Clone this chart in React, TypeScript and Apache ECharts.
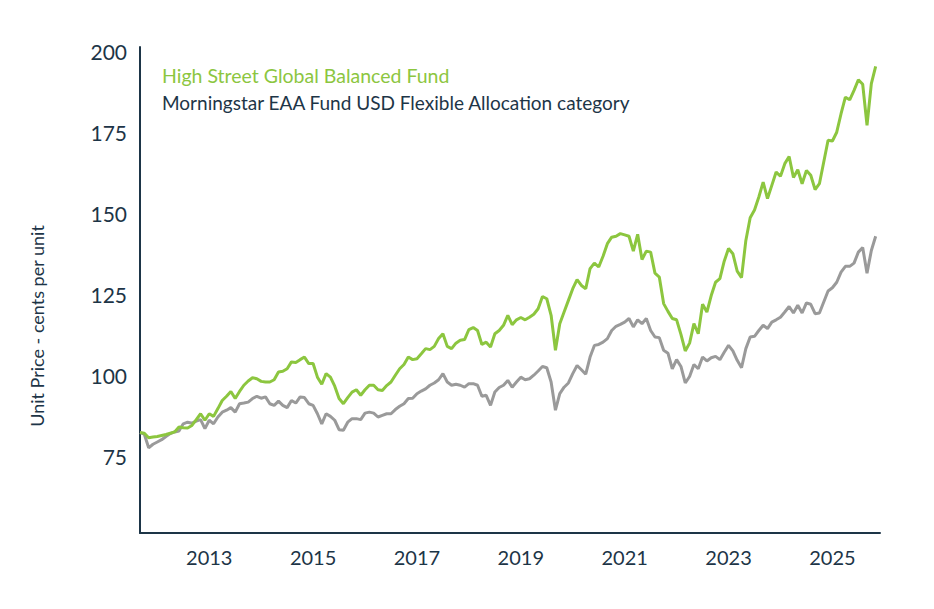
import React, { useEffect, useRef } from "react";
import * as echarts from "echarts";

// Monthly observations, Sep 2011 .. Nov 2025 (Dec 2025 is an empty slot at the axis end)
const START_YEAR = 2011;
const START_MONTH = 9;
const MONTH_COUNT = 172;

const fundName = "High Street Global Balanced Fund";
const categoryName = "Morningstar EAA Fund USD Flexible Allocation category";

const fundValues: (number | null)[] = [
  82.5, 82.3, 80.9, 81.1, 81.3, 81.6, 81.9, 82.3, 82.7, 84.2,
  84.0, 83.9, 84.7, 86.5, 88.3, 86.3, 88.3, 87.5, 89.9, 92.4,
  93.7, 95.2, 93.0, 95.2, 97.1, 98.4, 99.4, 99.1, 98.3, 98.1,
  98.1, 98.8, 101.2, 101.4, 102.2, 104.3, 104.1, 105.0, 105.8, 103.8,
  103.8, 99.6, 97.4, 100.7, 99.6, 96.8, 93.0, 91.4, 93.3, 95.0,
  95.7, 94.0, 95.7, 97.1, 97.1, 95.7, 95.5, 97.0, 98.1, 100.2,
  102.2, 103.5, 105.8, 105.0, 105.3, 106.8, 108.4, 108.1, 109.1, 111.5,
  113.0, 109.1, 108.4, 110.1, 111.0, 111.2, 114.3, 114.9, 114.0, 109.7,
  110.4, 108.9, 113.0, 114.0, 115.6, 118.7, 115.8, 117.3, 118.0, 117.3,
  118.1, 119.0, 120.7, 124.5, 123.8, 118.7, 107.9, 116.1, 119.7, 123.3,
  126.9, 129.7, 127.9, 126.9, 133.1, 134.8, 133.6, 136.9, 140.8, 142.8,
  143.1, 143.9, 143.5, 143.1, 138.5, 143.7, 135.9, 138.5, 138.2, 131.7,
  130.5, 122.3, 119.9, 117.7, 117.3, 112.8, 107.7, 110.1, 116.1, 113.0,
  122.1, 119.7, 124.8, 128.9, 130.0, 135.4, 139.3, 137.7, 132.3, 130.3,
  141.8, 148.8, 151.2, 155.2, 159.8, 154.7, 158.8, 162.9, 161.6, 165.5,
  167.7, 161.2, 163.6, 159.3, 163.4, 161.9, 157.5, 159.3, 166.0, 172.7,
  172.5, 175.2, 180.9, 186.0, 185.2, 188.1, 191.4, 190.0, 177.3, 190.2,
  195.5, null,
];

const categoryValues: (number | null)[] = [
  82.5, 82.0, 77.8, 78.9, 79.6, 80.3, 81.3, 82.2, 82.7, 83.0,
  85.2, 85.7, 85.4, 86.0, 86.5, 83.7, 86.3, 85.2, 87.3, 88.8,
  89.4, 90.2, 88.8, 91.4, 91.6, 91.9, 93.0, 93.7, 93.1, 93.5,
  91.4, 90.9, 92.2, 90.9, 90.2, 92.4, 91.6, 93.5, 93.3, 91.4,
  90.9, 88.3, 85.2, 88.3, 87.5, 86.3, 83.4, 83.2, 85.7, 86.8,
  86.8, 86.5, 88.5, 88.8, 88.5, 87.3, 87.8, 88.3, 88.3, 89.6,
  90.6, 91.4, 93.0, 93.1, 94.5, 95.3, 96.0, 97.1, 97.8, 98.8,
  100.7, 98.1, 97.1, 97.4, 97.1, 96.5, 97.6, 97.6, 97.1, 93.7,
  94.0, 90.9, 95.0, 96.4, 97.1, 98.6, 96.5, 98.1, 99.6, 98.8,
  99.1, 100.2, 101.5, 102.9, 102.5, 98.1, 89.4, 94.5, 96.5, 97.8,
  100.7, 103.2, 101.9, 100.5, 105.8, 109.4, 109.7, 110.4, 111.5, 114.0,
  115.3, 115.9, 116.6, 117.7, 115.1, 117.3, 116.1, 117.7, 114.0, 112.0,
  111.8, 107.9, 107.0, 102.2, 105.0, 102.9, 97.8, 99.8, 103.5, 102.2,
  105.8, 104.6, 105.6, 106.0, 105.0, 107.3, 109.4, 107.7, 104.8, 102.5,
  108.4, 112.0, 112.2, 114.0, 115.6, 114.6, 116.6, 117.3, 118.1, 119.7,
  121.4, 119.4, 121.8, 119.4, 122.5, 122.1, 119.2, 119.4, 122.8, 126.2,
  127.2, 128.9, 132.0, 133.8, 133.8, 134.8, 138.2, 139.6, 131.7, 138.7,
  143.1, null,
];

const yTickValues = [75, 100, 125, 150, 175, 200];
const xLabelYears = [2013, 2015, 2017, 2019, 2021, 2023, 2025];
const yAxisTitle = "Unit Price - cents per unit";

const months: string[] = Array.from({ length: MONTH_COUNT }, (_, k) => {
  const m0 = START_MONTH - 1 + k;
  const y = START_YEAR + Math.floor(m0 / 12);
  const m = (m0 % 12) + 1;
  return `${y}-${String(m).padStart(2, "0")}`;
});

const NAVY = "#1d3547";
const GREEN = "#8cc63f";
const GREY = "#9a9a9a";
const FONT = "Lato, 'Open Sans', sans-serif";

export default function App() {
  const ref = useRef<HTMLDivElement>(null);

  useEffect(() => {
    if (!ref.current) return;
    const chart = echarts.init(ref.current, undefined, { renderer: "svg" });
    chart.setOption({
      animation: false,
      backgroundColor: "#ffffff",
      textStyle: { fontFamily: FONT },
      grid: { left: 140, right: 54, top: 47, bottom: 76, containLabel: false },
      xAxis: {
        type: "category",
        data: months,
        boundaryGap: false,
        axisLine: { show: true, lineStyle: { color: NAVY, width: 2 } },
        axisTick: { show: false },
        splitLine: { show: false },
        axisLabel: {
          interval: (_idx: number, val: string) => {
            const [y, m] = val.split("-");
            return m === "01" && xLabelYears.includes(Number(y));
          },
          formatter: (val: string) => val.split("-")[0],
          color: NAVY,
          fontSize: 20,
          fontFamily: FONT,
          margin: 14,
        },
      },
      yAxis: {
        type: "value",
        min: 51.5,
        max: 201.5,
        axisLine: { show: true, lineStyle: { color: NAVY, width: 2 } },
        axisTick: { show: false },
        splitLine: { show: false },
        axisLabel: {
          customValues: yTickValues,
          color: NAVY,
          fontSize: 21,
          fontFamily: FONT,
          margin: 13,
        },
      },
      graphic: [
        {
          type: "text",
          x: 37,
          y: 326,
          rotation: Math.PI / 2,
          style: {
            text: yAxisTitle,
            fill: NAVY,
            font: `18px ${FONT}`,
            textAlign: "center",
            textVerticalAlign: "middle",
          },
        },
        {
          type: "text",
          x: 162,
          y: 75,
          style: {
            text: fundName,
            fill: GREEN,
            font: `19.5px ${FONT}`,
            textAlign: "left",
            textVerticalAlign: "middle",
          },
        },
        {
          type: "text",
          x: 162,
          y: 102,
          style: {
            text: categoryName,
            fill: NAVY,
            font: `19px ${FONT}`,
            textAlign: "left",
            textVerticalAlign: "middle",
          },
        },
      ],
      series: [
        {
          name: categoryName,
          type: "line",
          data: categoryValues,
          showSymbol: false,
          symbol: "none",
          lineStyle: { color: GREY, width: 3 },
          itemStyle: { color: GREY },
          z: 2,
        },
        {
          name: fundName,
          type: "line",
          data: fundValues,
          showSymbol: false,
          symbol: "none",
          lineStyle: { color: GREEN, width: 3 },
          itemStyle: { color: GREEN },
          z: 3,
        },
      ],
    });
    return () => chart.dispose();
  }, []);

  return (
    <div
      ref={ref}
      style={{ position: "fixed", left: 0, top: 0, width: 934, height: 609 }}
    />
  );
}
